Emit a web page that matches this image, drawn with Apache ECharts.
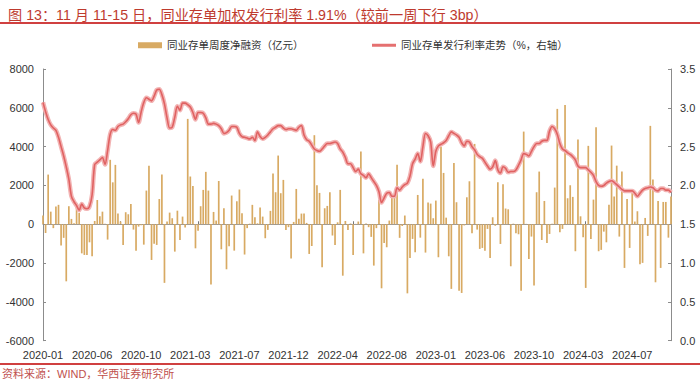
<!DOCTYPE html>
<html><head><meta charset="utf-8">
<script src="https://cdn.jsdelivr.net/npm/echarts@6/dist/echarts.min.js"></script>
<style>html,body{margin:0;padding:0;background:#fff}#c{width:700px;height:382px}</style>
</head><body><div id="c"></div>
<script>
// weekly net financing of NCDs (100 million yuan)
const netFinancing = [
450,-450,2560,650,-200,910,1000,-1100,-700,-2940,930,275,50,930,580,-1500,-1580,-1580,-930,-1650,170,1250,410,650,30,-790,3320,2160,3060,550,140,-1070,620,515,1050,-275,-1370,-120,-50,-1050,1735,3020,
-1840,-1010,-1065,1300,2560,-3020,140,600,310,-1410,700,-810,395,-170,5430,2460,1975,-1240,-340,930,1770,2700,1735,-3110,635,190,2230,-1290,825,-2320,-1130,1480,-1360,1185,1790,565,-1560,-200,30,1000,360,
50,860,395,-720,-290,690,2610,1650,3540,1600,2285,-290,-150,-1770,120,1820,290,550,550,70,-1530,-1120,4590,2010,1615,-2220,825,945,1650,-580,-1065,100,1770,-2650,170,-290,40,-1580,20,140,
3745,-1500,40,-150,-650,-2130,-200,1250,-3300,-960,-1185,190,1430,1560,3060,-700,-90,450,-3560,-1735,-755,-1440,1510,-690,2340,-1460,1120,1065,310,1220,-1700,4000,2645,340,-1650,-3330,3160,1135,-3420,-3540,-60,
1390,2215,-460,4140,-275,-1270,-1220,-1360,-240,-1735,360,-80,2165,-1015,2060,810,770,-2165,30,-460,-515,-3420,4775,20,-1790,-635,-3160,1650,2715,-810,1200,-960,-500,30,1890,5945,-410,-240,6150,1340,2010,
1410,-1390,4365,410,-670,-3280,4040,-755,1270,5000,-1390,-1320,-380,-930,1000,4055,1430,3020,-635,2715,-2250,1305,-1220,1650,140,670,-2060,-1990,325,-600,5070,2300,-2990,1200,-2250,1150,1150,-690,1430
];
// NCD issuance rate (%)
const issueRate = [
3.07,2.95,2.85,2.78,2.74,2.71,2.62,2.50,2.38,2.24,
2.08,1.86,1.79,1.74,1.68,1.76,1.71,1.70,1.73,1.88,
2.27,2.30,2.33,2.36,2.27,2.45,2.66,2.72,2.71,2.76,
2.78,2.79,2.82,2.86,2.91,2.93,2.92,2.81,2.95,3.07,
3.13,3.11,3.09,3.15,3.23,3.24,3.17,3.05,2.87,2.74,
2.75,2.88,3.02,2.97,3.06,3.06,3.04,3.01,2.94,2.85,
2.94,2.94,2.93,2.87,2.79,2.79,2.80,2.79,2.77,2.73,
2.67,2.68,2.71,2.76,2.76,2.75,2.67,2.63,2.62,2.61,
2.60,2.62,2.58,2.69,2.63,2.60,2.62,2.65,2.69,2.73,
2.75,2.77,2.77,2.74,2.72,2.73,2.73,2.72,2.71,2.75,
2.77,2.65,2.59,2.57,2.52,2.47,2.45,2.44,2.47,2.51,
2.54,2.54,2.55,2.56,2.54,2.47,2.43,2.36,2.28,2.28,
2.23,2.18,2.21,2.15,2.13,2.10,2.15,2.10,2.05,2.00,
1.92,1.78,1.84,1.90,1.91,1.86,1.86,1.97,1.94,1.98,
2.01,2.03,2.12,2.28,2.34,2.41,2.31,2.50,2.67,2.64,
2.56,2.25,2.44,2.51,2.53,2.55,2.58,2.64,2.69,2.67,
2.65,2.62,2.55,2.51,2.57,2.56,2.50,2.46,2.40,2.37,
2.35,2.30,2.25,2.21,2.24,2.32,2.20,2.16,2.24,2.22,
2.17,2.18,2.18,2.20,2.26,2.33,2.41,2.40,2.38,2.44,
2.50,2.54,2.54,2.57,2.58,2.58,2.70,2.76,2.73,2.66,
2.54,2.47,2.45,2.42,2.40,2.37,2.33,2.25,2.23,2.23,
2.23,2.20,2.17,2.13,2.05,2.00,1.99,2.00,2.03,2.05,
2.06,2.04,2.01,1.98,1.95,1.93,1.93,1.93,1.93,1.90,
1.86,1.90,1.94,1.96,1.97,1.98,1.97,1.94,1.93,1.96,
1.96,1.94,1.94,1.91
];
const xTickLabels = ['2020-01','2020-06','2020-10','2021-03','2021-07','2021-12','2022-04','2022-08','2023-01','2023-06','2023-10','2024-03','2024-07'];
const leftTicks = {min:-6000, max:8000, interval:2000};
const rightTicks = {min:0, max:3.5, interval:0.5};
const titleText = '图 13：11 月 11-15 日，同业存单加权发行利率 1.91%（较前一周下行 3bp）';
const sourceText = '资料来源：WIND，华西证券研究所';
const barName = '同业存单周度净融资（亿元）';
const lineName = '同业存单发行利率走势（%，右轴）';

// weekly categories ending 2024-11-15
const endDate = new Date(Date.UTC(2024,10,15));
const categories = netFinancing.map((_, i) => {
  const d = new Date(endDate.getTime() - (netFinancing.length - 1 - i) * 7 * 86400000);
  return d.toISOString().slice(0,10);
});
const labelStep = 19;

const FONT = '"Liberation Sans", Arial, "Noto Sans CJK SC", sans-serif';
const chart = echarts.init(document.getElementById('c'), null, {renderer:'svg'});
chart.setOption({
  animation:false,
  textStyle:{fontFamily:FONT},
  title:{text:titleText, left:3, top:3, textStyle:{fontSize:14.2, fontWeight:'normal', color:'#BE3A2E', fontFamily:FONT}},
  graphic:[
    {type:'line', shape:{x1:0,y1:23,x2:700,y2:23}, style:{stroke:'#C00000', lineWidth:1.5}},
    {type:'line', shape:{x1:0,y1:364,x2:700,y2:364}, style:{stroke:'#C00000', lineWidth:1.5}},
    {type:'text', left:2, top:368, style:{text:sourceText, fill:'#C0504D', font:'11px '+FONT}}
  ],
  legend:[
    {left:138, top:40, padding:0, itemWidth:24, itemHeight:6, itemGap:4,
     data:[{name:barName, icon:'rect'}],
     textStyle:{fontSize:10.5, color:'#333', fontFamily:FONT}},
    {left:372, top:40, padding:0, itemWidth:24, itemHeight:3, itemGap:4,
     data:[{name:lineName, icon:'rect', itemStyle:{color:'#E57070'}}],
     textStyle:{fontSize:10.5, color:'#333', fontFamily:FONT}}
  ],
  grid:{left:43, right:29, top:69, bottom:41.3},
  xAxis:[
    {type:'category', data:categories, boundaryGap:false, position:'bottom',
     axisLine:{show:false, onZero:false}, axisTick:{show:false},
     axisLabel:{interval:labelStep-1, margin:9, fontSize:11, color:'#333', fontFamily:FONT,
       formatter:(v, idx) => xTickLabels[Math.round(idx/labelStep)] || ''}},
    {type:'category', data:categories, boundaryGap:false, position:'top',
     axisLine:{show:true, onZero:true, onZeroAxisIndex:0, lineStyle:{color:'#999', width:1}},
     axisTick:{show:true, interval:29, length:3, lineStyle:{color:'#777'}},
     axisLabel:{show:false}}
  ],
  yAxis:[
    {type:'value', min:leftTicks.min, max:leftTicks.max, interval:leftTicks.interval, position:'left',
     axisLine:{show:true, lineStyle:{color:'#8c8c8c'}}, axisTick:{show:true, inside:true, length:3, lineStyle:{color:'#8c8c8c'}},
     splitLine:{show:false}, axisLabel:{fontSize:11, color:'#333', margin:9, fontFamily:FONT, formatter:v=>String(v)}},
    {type:'value', min:rightTicks.min, max:rightTicks.max, interval:rightTicks.interval, position:'right',
     axisLine:{show:true, lineStyle:{color:'#8c8c8c'}}, axisTick:{show:true, inside:true, length:3, lineStyle:{color:'#8c8c8c'}},
     splitLine:{show:false}, axisLabel:{fontSize:11, color:'#333', margin:9, fontFamily:FONT, formatter:v=>v.toFixed(1)}}
  ],
  series:[
    {name:barName, type:'bar', data:netFinancing, xAxisIndex:0, yAxisIndex:0, barWidth:1.7,
     itemStyle:{color:'#D8AA63'}, z:2},
    {name:'halo', type:'line', data:issueRate, xAxisIndex:0, yAxisIndex:1, symbol:'none', smooth:0.3,
     lineStyle:{color:'#F2B3B3', width:4.5}, z:3, silent:true},
    {name:lineName, type:'line', data:issueRate, xAxisIndex:0, yAxisIndex:1, symbol:'none', smooth:0.3,
     lineStyle:{color:'#E06262', width:1.6}, itemStyle:{color:'#E06262'}, z:4}
  ]
});
</script></body></html>
